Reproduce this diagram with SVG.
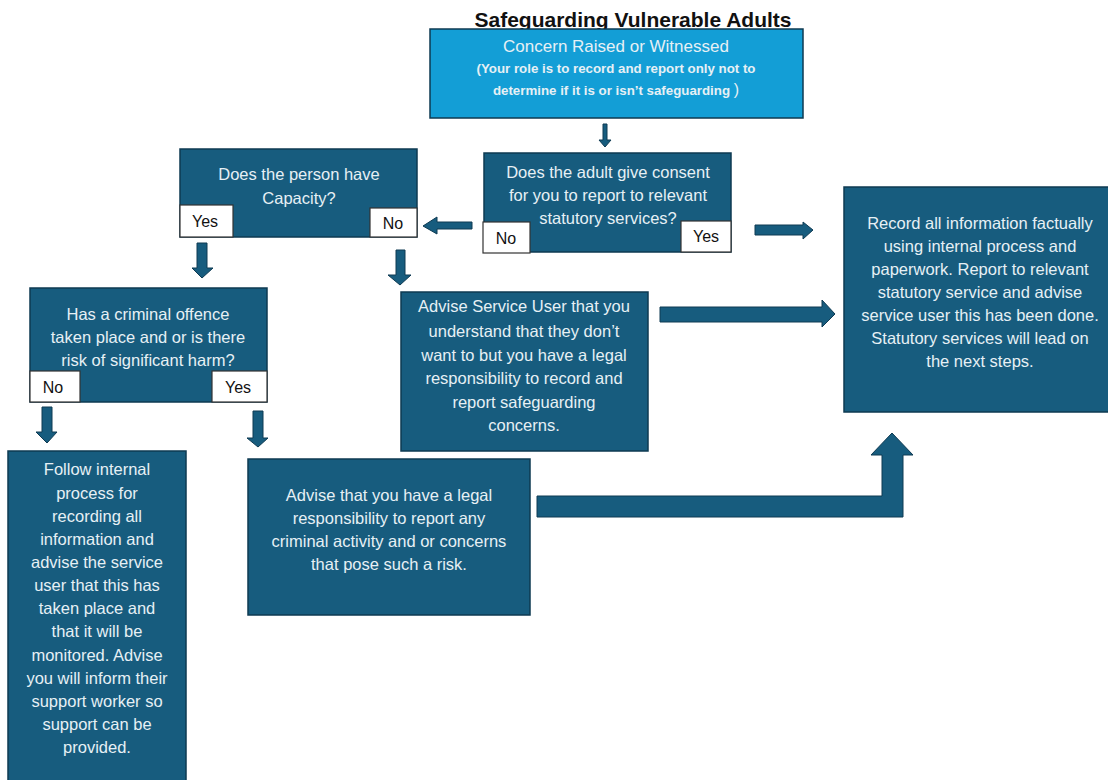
<svg xmlns="http://www.w3.org/2000/svg" width="1108" height="780" viewBox="0 0 1108 780">
<style>
.box{fill:#175C7E;stroke:#0E3A52;stroke-width:1.5}
.top{fill:#139ED6;stroke:#0E3A52;stroke-width:1.5}
.lbl{fill:#ffffff;stroke:#333333;stroke-width:1.2}
.arr{fill:#175C7E;stroke:#0E3A52;stroke-width:1}
.t{font-family:"Liberation Sans",Arial,sans-serif;font-size:16.5px;fill:#E6F0F5;text-anchor:middle}
.tb{font-family:"Liberation Sans",Arial,sans-serif;font-size:13.3px;font-weight:bold;fill:#E6F0F5;text-anchor:middle}
.l{font-family:"Liberation Sans",Arial,sans-serif;font-size:16px;fill:#111111;text-anchor:middle}
.title{font-family:"Liberation Sans",Arial,sans-serif;font-size:21px;font-weight:bold;fill:#111111;text-anchor:middle}
</style>
<rect width="1108" height="780" fill="#ffffff"/>
<text class="title" x="633" y="27">Safeguarding Vulnerable Adults</text>

<g id="connectors">
  <polygon class="arr" points="603,124 607,124 607,140 611,140 605,147 599,140 603,140"/>
  <polygon class="arr" points="472,222 437,222 437,217 423,226 437,234 437,229 472,229"/>
  <polygon class="arr" points="755,225 803,225 803,222 813,230 803,239 803,235 755,235"/>
  <polygon class="arr" points="197,243 207,243 207,268 213,268 202,278 192,268 197,268"/>
  <polygon class="arr" points="396,250 405,250 405,275 411,275 400,285 388,275 396,275"/>
  <polygon class="arr" points="42,407 52,407 52,432 57,432 47,443 36,432 42,432"/>
  <polygon class="arr" points="253,411 263,411 263,438 268,438 258,447 247,438 253,438"/>
  <polygon class="arr" points="660,307 822,307 822,300 835,314 822,327 822,322 660,322"/>
  <polygon class="arr" points="537,496 882,496 882,455 871,455 892,433 913,455 903,455 903,517 537,517"/>
</g>

<g id="concern">
  <rect class="top" x="430" y="29" width="373" height="89"/>
  <text class="t" x="616" y="52" style="font-size:17px">Concern Raised or Witnessed</text>
  <text class="tb" x="616" y="73">(Your role is to record and report only not to</text>
  <text class="tb" x="616" y="95">determine if it is or isn’t safeguarding <tspan style="font-weight:normal;font-size:16px">)</tspan></text>
</g>

<g id="capacity">
  <rect class="box" x="180" y="149" width="237" height="88"/>
  <text class="t" x="299" y="180">Does the person have</text>
  <text class="t" x="299" y="204">Capacity?</text>
  <rect class="lbl" x="180" y="205" width="53" height="32"/>
  <text class="l" x="205" y="227">Yes</text>
  <rect class="lbl" x="370" y="208" width="47" height="29"/>
  <text class="l" x="393" y="229">No</text>
</g>

<g id="consent">
  <rect class="box" x="484" y="153" width="247" height="99"/>
  <text class="t" x="608" y="178">Does the adult give consent</text>
  <text class="t" x="608" y="201">for you to report to relevant</text>
  <text class="t" x="608" y="224">statutory services?</text>
  <rect class="lbl" x="483" y="222" width="47" height="31"/>
  <text class="l" x="506" y="244">No</text>
  <rect class="lbl" x="681" y="221" width="50" height="31"/>
  <text class="l" x="706" y="242">Yes</text>
</g>

<g id="record">
  <rect class="box" x="844" y="187" width="268" height="225"/>
  <text class="t" x="980" y="229">Record all information factually</text>
  <text class="t" x="980" y="252">using internal process and</text>
  <text class="t" x="980" y="275">paperwork. Report to relevant</text>
  <text class="t" x="980" y="298">statutory service and advise</text>
  <text class="t" x="980" y="321">service user this has been done.</text>
  <text class="t" x="980" y="344">Statutory services will lead on</text>
  <text class="t" x="980" y="367">the next steps.</text>
</g>

<g id="criminal">
  <rect class="box" x="30" y="288" width="237" height="114"/>
  <text class="t" x="148" y="320">Has a criminal offence</text>
  <text class="t" x="148" y="343">taken place and or is there</text>
  <text class="t" x="148" y="366">risk of significant harm?</text>
  <rect class="lbl" x="30" y="371" width="50" height="31"/>
  <text class="l" x="53" y="393">No</text>
  <rect class="lbl" x="212" y="371" width="55" height="31"/>
  <text class="l" x="238" y="393">Yes</text>
</g>

<g id="advise-user">
  <rect class="box" x="401" y="292" width="247" height="159"/>
  <text class="t" x="524" y="312">Advise Service User that you</text>
  <text class="t" x="524" y="337">understand that they don’t</text>
  <text class="t" x="524" y="361">want to but you have a legal</text>
  <text class="t" x="524" y="384">responsibility to record and</text>
  <text class="t" x="524" y="408">report safeguarding</text>
  <text class="t" x="524" y="431">concerns.</text>
</g>

<g id="follow">
  <rect class="box" x="8" y="451" width="178" height="340"/>
  <text class="t" x="97" y="475">Follow internal</text>
  <text class="t" x="97" y="499">process for</text>
  <text class="t" x="97" y="522">recording all</text>
  <text class="t" x="97" y="545">information and</text>
  <text class="t" x="97" y="568">advise the service</text>
  <text class="t" x="97" y="591">user that this has</text>
  <text class="t" x="97" y="614">taken place and</text>
  <text class="t" x="97" y="637">that it will be</text>
  <text class="t" x="97" y="661">monitored. Advise</text>
  <text class="t" x="97" y="684">you will inform their</text>
  <text class="t" x="97" y="707">support worker so</text>
  <text class="t" x="97" y="730">support can be</text>
  <text class="t" x="97" y="753">provided.</text>
</g>

<g id="advise-criminal">
  <rect class="box" x="248" y="459" width="282" height="156"/>
  <text class="t" x="389" y="501">Advise that you have a legal</text>
  <text class="t" x="389" y="524">responsibility to report any</text>
  <text class="t" x="389" y="547">criminal activity and or concerns</text>
  <text class="t" x="389" y="570">that pose such a risk.</text>
</g>
</svg>
